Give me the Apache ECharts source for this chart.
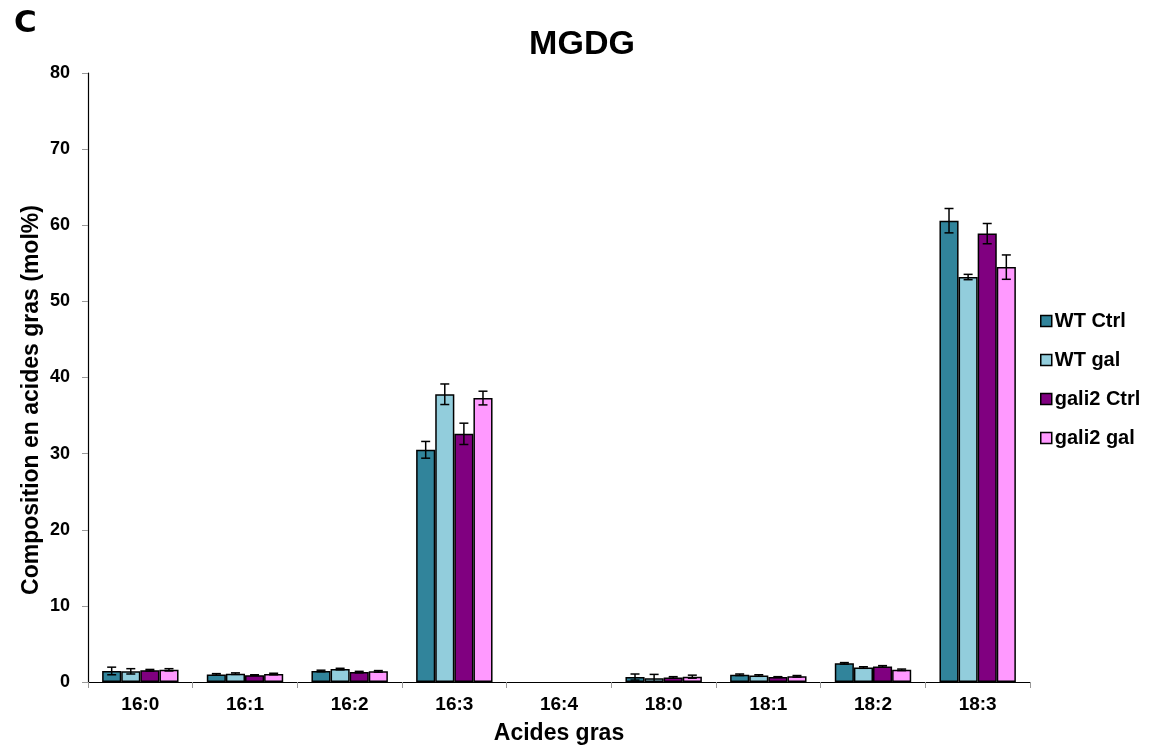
<!DOCTYPE html>
<html><head><meta charset="utf-8">
<script src="https://cdn.jsdelivr.net/npm/echarts@6/dist/echarts.min.js"></script>
<style>html,body{margin:0;padding:0;background:#fff}#c{width:1152px;height:751px}</style>
</head><body><div id="c"></div>
<script>
const categories = ['16:0','16:1','16:2','16:3','16:4','18:0','18:1','18:2','18:3'];
const seriesNames = ['WT Ctrl','WT gal','gali2 Ctrl','gali2 gal'];
const wtCtrl    = [1.45, 1.0, 1.45, 30.5, 0, 0.65, 0.95, 2.45, 60.6];
const wtGal     = [1.4, 1.1, 1.7, 37.8, 0, 0.5, 0.85, 1.9, 53.2];
const gali2Ctrl = [1.55, 0.9, 1.3, 32.6, 0, 0.6, 0.65, 2.05, 58.9];
const gali2Gal  = [1.6, 1.05, 1.4, 37.3, 0, 0.7, 0.75, 1.6, 54.5];
const wtCtrlErr    = [0.5, 0.1, 0.1, 1.1, 0, 0.4, 0.1, 0.1, 1.6];
const wtGalErr     = [0.35, 0.1, 0.1, 1.35, 0, 0.5, 0.1, 0.1, 0.35];
const gali2CtrlErr = [0.1, 0.05, 0.1, 1.4, 0, 0.1, 0.05, 0.1, 1.33];
const gali2GalErr  = [0.15, 0.1, 0.1, 0.9, 0, 0.2, 0.1, 0.1, 1.6];
const yTicks = [0,10,20,30,40,50,60,70,80];

const colors = ['#31849B','#92CDDC','#800080','#FF99FF'];
const values = [wtCtrl, wtGal, gali2Ctrl, gali2Gal];
const errors = [wtCtrlErr, wtGalErr, gali2CtrlErr, gali2GalErr];
const catGap = 0.27;

const chart = echarts.init(document.getElementById('c'));
const series = [];
values.forEach((v, i) => {
  series.push({
    name: seriesNames[i], type: 'bar',
    data: v.map(x => x === 0 ? {value: 0, itemStyle: {borderWidth: 0}} : x),
    barGap: '0%', barCategoryGap: (catGap*100)+'%',
    itemStyle: {color: colors[i], borderColor: '#000', borderWidth: 1.5},
    emphasis: {disabled: true}
  });
});
values.forEach((v, i) => {
  const data = categories.map((c, k) => [k, v[k], errors[i][k]]);
  series.push({
    type: 'custom', silent: true, z: 10,
    data: data,
    renderItem: function (params, api) {
      const k = api.value(0), val = api.value(1), err = api.value(2);
      if (!err) return null;
      const catW = api.size([1, 0])[0];
      const bw = catW * (1 - catGap) / 4;
      const c = api.coord([k, val]);
      const x = c[0] + (i - 1.5) * bw;
      const yt = api.coord([k, val + err])[1];
      const yb = api.coord([k, Math.max(0, val - err)])[1];
      const cap = 4.5;
      const st = {stroke: '#000', lineWidth: 1.5};
      return {type: 'group', children: [
        {type: 'line', shape: {x1: x, y1: yt, x2: x, y2: yb}, style: st},
        {type: 'line', shape: {x1: x-cap, y1: yt, x2: x+cap, y2: yt}, style: st},
        {type: 'line', shape: {x1: x-cap, y1: yb, x2: x+cap, y2: yb}, style: st}
      ]};
    }
  });
});

chart.setOption({
  animation: false,
  title: [
    {text: 'MGDG', left: 577, top: 23, textAlign: 'center',
     textStyle: {fontFamily: 'Liberation Sans', fontWeight: 'bold', fontSize: 34, color: '#000'}},
    {text: 'C', left: 9, top: 3,
     textStyle: {fontFamily: 'DejaVu Sans', fontWeight: 'bold', fontSize: 31, color: '#000'}}
  ],
  graphic: [{
    type: 'text', x: 32, y: 400, rotation: Math.PI / 2,
    style: {text: 'Composition en acides gras (mol%)', align: 'center', verticalAlign: 'middle',
      font: 'bold 23px "Liberation Sans"', fill: '#000'}
  }],
  legend: {
    orient: 'vertical', left: 1035, top: 306, itemGap: 19,
    itemWidth: 11, itemHeight: 11, icon: 'rect',
    data: seriesNames,
    itemStyle: {borderColor: '#000', borderWidth: 1.5},
    textStyle: {fontFamily: 'Liberation Sans', fontWeight: 'bold', fontSize: 20, color: '#000', padding: [0,0,0,-2]}
  },
  grid: {left: 88, right: 122, top: 73, bottom: 69, containLabel: false},
  xAxis: {
    type: 'category', data: categories,
    name: 'Acides gras', nameLocation: 'middle', nameGap: 40,
    nameTextStyle: {fontFamily: 'Liberation Sans', fontWeight: 'bold', fontSize: 23, color: '#000'},
    axisLine: {lineStyle: {color: '#000', width: 1.2}},
    axisTick: {show: true, length: 6, lineStyle: {color: '#999'}},
    axisLabel: {fontFamily: 'Liberation Sans', fontWeight: 'bold', fontSize: 19, color: '#000', margin: 13}
  },
  yAxis: {
    type: 'value', min: 0, max: 80, interval: 10,
    axisLine: {show: true, lineStyle: {color: '#000', width: 1.2}},
    axisTick: {show: true, length: 6, lineStyle: {color: '#999'}},
    splitLine: {show: false},
    axisLabel: {fontFamily: 'Liberation Sans', fontWeight: 'bold', fontSize: 18, color: '#000', margin: 18,
      formatter: v => yTicks.includes(v) ? String(v) : ''}
  },
  series: series
});
</script></body></html>
